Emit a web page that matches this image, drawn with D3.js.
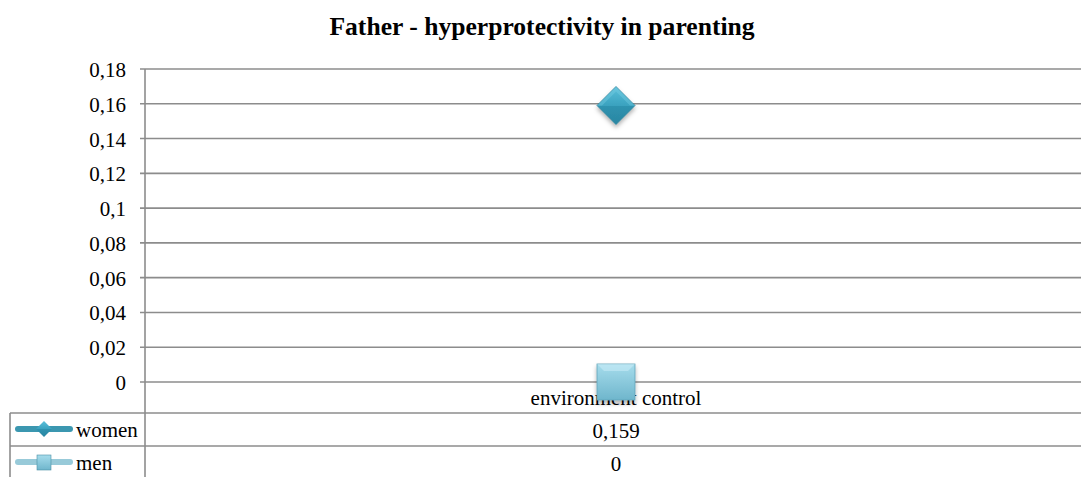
<!DOCTYPE html>
<html><head><meta charset="utf-8">
<script src="https://cdn.jsdelivr.net/npm/d3@7"></script>
<style>body{margin:0;background:#fff}svg{display:block}</style>
</head><body><svg id="c" width="1081" height="477"></svg>
<script>
const title = "Father - hyperprotectivity in parenting";
const categories = ["environment control"];
const seriesNames = ["women", "men"];
const women = [0.159];
const men = [0];
const yTickValues = [0, 0.02, 0.04, 0.06, 0.08, 0.1, 0.12, 0.14, 0.16, 0.18];

const loc = d3.formatLocale({decimal: ",", thousands: ".", grouping: [3], currency: ["", ""]});
const fmtTick = loc.format(".2~f");
const fmtVal = loc.format(".3~f");

const FF = "Liberation Serif";
const svg = d3.select("#c");
const L = 145, R = 1087, T = 69, B = 382;
const x = d3.scaleBand().domain(categories).range([L, R]);
const y = d3.scaleLinear().domain([0, 0.18]).range([B, T]);
const grid = "#8c8c8c";
const FS = 21;

const defs = svg.append("defs");
const g1 = defs.append("linearGradient").attr("id","dia").attr("x1","0").attr("y1","0").attr("x2","0").attr("y2","1");
g1.append("stop").attr("offset","0").attr("stop-color","#5cc0da");
g1.append("stop").attr("offset","0.5").attr("stop-color","#3aa2bf");
g1.append("stop").attr("offset","0.5").attr("stop-color","#2f93b0");
g1.append("stop").attr("offset","1").attr("stop-color","#2a86a2");
const g2 = defs.append("linearGradient").attr("id","sq").attr("x1","0").attr("y1","0").attr("x2","0").attr("y2","1");
g2.append("stop").attr("offset","0").attr("stop-color","#a6dcec");
g2.append("stop").attr("offset","1").attr("stop-color","#6fb6cc");
const f = defs.append("filter").attr("id","sh").attr("x","-30%").attr("y","-30%").attr("width","160%").attr("height","170%");
f.append("feDropShadow").attr("dx",0).attr("dy",3).attr("stdDeviation",2).attr("flood-color","#000").attr("flood-opacity",0.3);

svg.append("text").attr("x", 542).attr("y", 35).attr("text-anchor","middle").attr("font-family", FF)
  .attr("font-size", 25.6).attr("font-weight","bold").text(title);

// gridlines
svg.append("g").selectAll("line").data(yTickValues).join("line")
  .attr("x1", L - 5).attr("x2", R).attr("y1", d => y(d)).attr("y2", d => y(d))
  .attr("stroke", grid).attr("stroke-width", 1.6);
svg.append("g").selectAll("text").data(yTickValues).join("text")
  .attr("x", 126).attr("y", d => y(d) + 8).attr("text-anchor","end").attr("font-family", FF)
  .attr("font-size", FS).text(d => fmtTick(d));

// table
const rowTop = 413, rowH = 33;
const tableRows = [rowTop, rowTop + rowH, rowTop + 2 * rowH];
svg.append("g").selectAll("line").data(tableRows).join("line")
  .attr("x1", 10).attr("x2", R).attr("y1", d => d).attr("y2", d => d)
  .attr("stroke", grid).attr("stroke-width", 1.6);
svg.append("line").attr("x1", 10).attr("x2", 10).attr("y1", rowTop).attr("y2", 477).attr("stroke", grid).attr("stroke-width", 1.6);
svg.append("line").attr("x1", L).attr("x2", L).attr("y1", T).attr("y2", 477).attr("stroke", grid).attr("stroke-width", 1.6);

// category label
svg.selectAll(".cat").data(categories).join("text").attr("class","cat")
  .attr("x", d => x(d) + x.bandwidth() / 2).attr("y", 405).attr("text-anchor","middle").attr("font-family", FF)
  .attr("font-size", FS).text(d => d);

// values in table
const seriesVals = [women, men];
seriesVals.forEach((vals, i) => {
  svg.append("g").selectAll("text").data(vals).join("text")
    .attr("x", (d, j) => x(categories[j]) + x.bandwidth() / 2)
    .attr("y", rowTop + i * rowH + 25).attr("text-anchor","middle").attr("font-family", FF)
    .attr("font-size", FS).text(d => fmtVal(d));
});

// legend keys
const keyColors = ["#3b97b0", "#98cad9"];
seriesNames.forEach((n, i) => {
  const cy = rowTop + i * rowH + 16;
  svg.append("line").attr("x1", 18).attr("x2", 70).attr("y1", cy).attr("y2", cy)
    .attr("stroke", keyColors[i]).attr("stroke-width", 6).attr("stroke-linecap","round");
  if (i === 0) {
    svg.append("path").attr("d", `M44,${cy-8}L52,${cy}L44,${cy+8}L36,${cy}Z`).attr("fill","url(#dia)");
  } else {
    svg.append("rect").attr("x", 37).attr("y", cy - 7).attr("width", 14).attr("height", 15).attr("fill","url(#sq)").attr("stroke","#4a8fa5").attr("stroke-width",0.6);
  }
  svg.append("text").attr("x", 76).attr("y", rowTop + i * rowH + 24).attr("font-family", FF).attr("font-size", FS).text(n);
});

// markers
const cx = c => x(c) + x.bandwidth() / 2;
svg.append("g").selectAll("path").data(women).join("path")
  .attr("filter","url(#sh)")
  .attr("d", (d, j) => { const X = cx(categories[j]), Y = y(d), r = 19; return `M${X},${Y-r}L${X+r},${Y}L${X},${Y+r}L${X-r},${Y}Z`; })
  .attr("fill","url(#dia)").attr("stroke","#2a7f98").attr("stroke-width",0.8);
svg.append("g").selectAll("path").data(women).join("path")
  .attr("d", (d, j) => { const X = cx(categories[j]), Y = y(d), r = 19, s = 10; return `M${X},${Y-r}L${X+r},${Y}L${X+r-s/2},${Y}L${X},${Y-r+s/2}L${X-r+s/2},${Y}L${X-r},${Y}Z`; })
  .attr("fill","#7fd0e6").attr("opacity",0.35);

svg.append("g").selectAll("rect").data(men).join("rect")
  .attr("filter","url(#sh)")
  .attr("x", (d, j) => cx(categories[j]) - 19).attr("y", d => y(d) - 18)
  .attr("width", 38).attr("height", 36)
  .attr("fill","url(#sq)").attr("stroke","#5fa3b8").attr("stroke-width",0.8);
svg.append("g").selectAll("path").data(men).join("path")
  .attr("d", (d, j) => { const X = cx(categories[j]), Y = y(d); return `M${X-19},${Y-18}L${X+19},${Y-18}L${X+12},${Y-11}L${X-12},${Y-11}Z`; })
  .attr("fill","#d0f0fa").attr("opacity",0.5);
</script></body></html>
